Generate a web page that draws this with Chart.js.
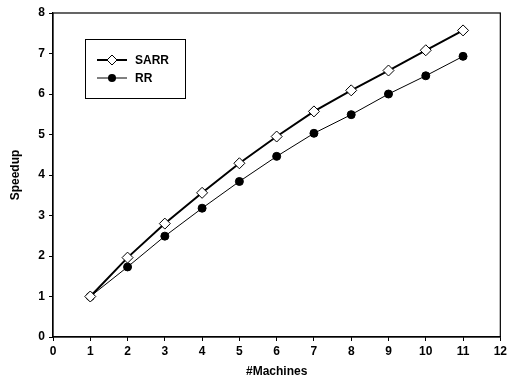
<!DOCTYPE html>
<html>
<head>
<meta charset="utf-8">
<script src="https://cdn.jsdelivr.net/npm/chart.js@4"></script>
<style>
  html, body { margin: 0; padding: 0; background: #fff; }
  #wrap { width: 510px; height: 383px; }
</style>
</head>
<body>
<div id="wrap"><canvas id="speedupChart" width="510" height="383"></canvas></div>
<script>
// data
const machines = [1, 2, 3, 4, 5, 6, 7, 8, 9, 10, 11];
const sarrSpeedup = [1.0, 1.96, 2.80, 3.56, 4.29, 4.95, 5.57, 6.09, 6.58, 7.08, 7.57];
const rrSpeedup = [1.0, 1.73, 2.49, 3.18, 3.84, 4.46, 5.03, 5.49, 6.00, 6.45, 6.93];
const seriesNames = ['SARR', 'RR'];

const FONT = 'Liberation Sans, Arial, sans-serif';

// frame around the plot + boxed legend in the upper left
const framePlugin = {
    id: 'frame',
    afterDraw(chart) {
        const { ctx, chartArea: a } = chart;
        ctx.save();
        ctx.strokeStyle = '#000';
        ctx.lineWidth = 1.2;
        ctx.strokeRect(a.left, a.top, a.right - a.left, a.bottom - a.top);

        // legend box
        const bx = 85, by = 39, bw = 100, bh = 59;
        ctx.lineWidth = 1;
        ctx.strokeRect(bx + 0.5, by + 0.5, bw, bh);

        ctx.font = 'bold 12px ' + FONT;
        ctx.textBaseline = 'middle';
        ctx.fillStyle = '#000';
        chart.data.datasets.forEach((ds, i) => {
            const y = by + 21 + i * 18;
            ctx.beginPath();
            ctx.lineWidth = ds.borderWidth;
            ctx.moveTo(97, y);
            ctx.lineTo(127, y);
            ctx.stroke();
            ctx.lineWidth = 1;
            ctx.beginPath();
            if (ds.pointStyle === 'rectRot') {
                const r = 5;
                ctx.moveTo(112, y - r); ctx.lineTo(112 + r, y);
                ctx.lineTo(112, y + r); ctx.lineTo(112 - r, y);
                ctx.closePath();
                ctx.fillStyle = '#fff';
                ctx.fill();
                ctx.stroke();
            } else {
                ctx.arc(112, y, 4, 0, Math.PI * 2);
                ctx.fillStyle = '#000';
                ctx.fill();
            }
            ctx.fillStyle = '#000';
            ctx.fillText(ds.label, 135, y + 1);
        });
        ctx.restore();
    }
};

const toPoints = vals => machines.map((m, i) => ({ x: m, y: vals[i] }));

new Chart(document.getElementById('speedupChart'), {
    type: 'line',
    data: {
        datasets: [{
            label: seriesNames[0],
            data: toPoints(sarrSpeedup),
            borderColor: '#000',
            borderWidth: 2,
            pointStyle: 'rectRot',
            pointRadius: 5.5,
            pointBackgroundColor: '#fff',
            pointBorderColor: '#000',
            pointBorderWidth: 1,
            tension: 0
        }, {
            label: seriesNames[1],
            data: toPoints(rrSpeedup),
            borderColor: '#000',
            borderWidth: 1,
            pointStyle: 'circle',
            pointRadius: 4,
            pointBackgroundColor: '#000',
            pointBorderColor: '#000',
            tension: 0
        }]
    },
    options: {
        responsive: false,
        animation: false,
        layout: { padding: { left: 4, right: 8, top: 13, bottom: 0 } },
        plugins: { legend: { display: false }, tooltip: { enabled: false } },
        scales: {
            x: {
                type: 'linear',
                min: 0, max: 12,
                ticks: { stepSize: 1, color: '#000', font: { family: FONT, size: 12, weight: 'bold' }, padding: 3, maxRotation: 0 },
                grid: { drawOnChartArea: false, tickLength: 4, color: '#000' },
                border: { color: '#000', width: 1.2 },
                title: { display: true, text: '#Machines', color: '#000', font: { family: FONT, size: 12, weight: 'bold' }, padding: { top: 4 } },
                afterFit: s => { s.height = 46; }
            },
            y: {
                min: 0, max: 8,
                ticks: { stepSize: 1, color: '#000', font: { family: FONT, size: 12, weight: 'bold' }, padding: 4 },
                grid: { drawOnChartArea: false, tickLength: 4, color: '#000' },
                border: { color: '#000', width: 1.2 },
                title: { display: true, text: 'Speedup', color: '#000', font: { family: FONT, size: 12, weight: 'bold' }, padding: { bottom: 8 } },
                afterFit: s => { s.width = 49; }
            }
        }
    },
    plugins: [framePlugin]
});
</script>
</body>
</html>
